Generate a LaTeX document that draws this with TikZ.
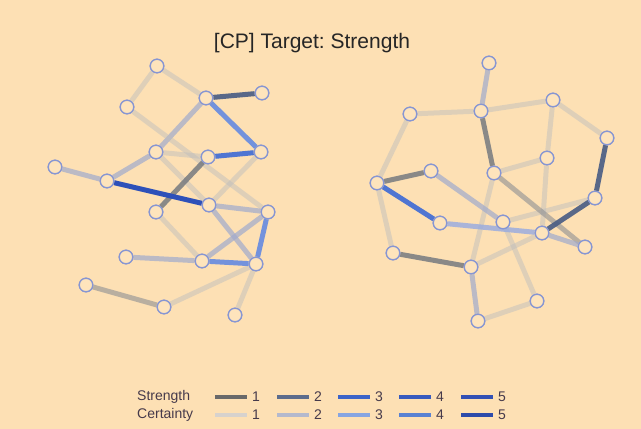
\documentclass[tikz,border=0pt]{standalone}
\usepackage{fontspec}
\setmainfont{Liberation Sans}
\frenchspacing
\definecolor{bg}{RGB}{253,224,180}
\definecolor{nodefill}{RGB}{254,228,188}
\definecolor{nodeline}{RGB}{135,150,210}
\definecolor{txt}{RGB}{70,58,75}
\definecolor{lgrey}{RGB}{190,190,190}
\definecolor{tgrey}{RGB}{150,150,150}
\definecolor{bgrey}{RGB}{160,170,205}
\definecolor{lblue}{RGB}{150,170,225}
\definecolor{mblue}{RGB}{100,138,225}
\definecolor{sblue}{RGB}{70,112,212}
\definecolor{dblue}{RGB}{45,80,185}
\definecolor{slate}{RGB}{72,92,132}
\definecolor{dgrey}{RGB}{118,122,128}
\definecolor{sg1}{RGB}{105,105,105}
\definecolor{sg2}{RGB}{92,108,140}
\definecolor{sg3}{RGB}{60,100,200}
\definecolor{sg4}{RGB}{55,90,190}
\definecolor{sg5}{RGB}{50,80,180}
\definecolor{cg1}{RGB}{215,210,205}
\definecolor{cg2}{RGB}{180,185,205}
\definecolor{cg3}{RGB}{135,165,225}
\definecolor{cg4}{RGB}{90,130,210}
\definecolor{cg5}{RGB}{45,75,170}
\tikzset{
  vtx/.style={circle,minimum size=13.5pt,inner sep=0pt,fill=nodefill,draw=nodeline,line width=1.3pt},
  edge/.style={line width=5pt},
  elight/.style={edge,draw=lgrey,draw opacity=0.48},
  etan/.style={edge,draw=tgrey,draw opacity=0.65},
  ebg/.style={edge,draw=bgrey,draw opacity=0.7},
  elb/.style={edge,draw=lblue,draw opacity=0.8},
  emb/.style={edge,draw=mblue,draw opacity=0.9},
  esb/.style={edge,draw=sblue,draw opacity=0.95},
  edb/.style={edge,draw=dblue},
  esl/.style={edge,draw=slate,draw opacity=0.9},
  edg/.style={edge,draw=dgrey,draw opacity=0.85},
  leg/.style={line width=4.5pt},
  legtxt/.style={text=txt,font=\fontsize{14}{16}\selectfont,inner sep=0pt},
}
\begin{document}
\begin{tikzpicture}[x=1pt,y=-1pt]
\fill[bg] (0,0) rectangle (641,429);
\useasboundingbox (0,0) rectangle (641,429);
\node[text=black!85,font=\fontsize{21}{24}\selectfont] (title) at (312,43) {[CP] Target: Strength};
% left graph nodes
\node[vtx] (A) at (157,66) {};
\node[vtx] (B) at (206,98) {};
\node[vtx] (C) at (262,93) {};
\node[vtx] (D) at (127,107) {};
\node[vtx] (E) at (156,152) {};
\node[vtx] (F) at (208,157) {};
\node[vtx] (G) at (261,152) {};
\node[vtx] (H) at (55,167) {};
\node[vtx] (I) at (107,181) {};
\node[vtx] (J) at (209,205) {};
\node[vtx] (K) at (156,212) {};
\node[vtx] (L) at (268,212) {};
\node[vtx] (M) at (126,257) {};
\node[vtx] (N) at (202,261) {};
\node[vtx] (O) at (256,264) {};
\node[vtx] (P) at (86,285) {};
\node[vtx] (Q) at (164,307) {};
\node[vtx] (R) at (235,315) {};
% right graph nodes
\node[vtx] (a) at (489,63) {};
\node[vtx] (b) at (410,114) {};
\node[vtx] (c) at (481,111) {};
\node[vtx] (d) at (553,100) {};
\node[vtx] (e) at (607,138) {};
\node[vtx] (f) at (547,158) {};
\node[vtx] (g) at (494,173) {};
\node[vtx] (h) at (431,171) {};
\node[vtx] (i) at (377,183) {};
\node[vtx] (j) at (595,198) {};
\node[vtx] (k) at (440,223) {};
\node[vtx] (l) at (503,222) {};
\node[vtx] (m) at (542,233) {};
\node[vtx] (n) at (585,247) {};
\node[vtx] (o) at (393,253) {};
\node[vtx] (p) at (471,267) {};
\node[vtx] (q) at (537,301) {};
\node[vtx] (r) at (478,321) {};
% left edges
\draw[elight] (A) -- (D);
\draw[elight] (A) -- (B);
\draw[ebg] (B) -- (E);
\draw[elight] (D) -- (L);
\draw[elight] (E) -- (F);
\draw[elight] (E) -- (J);
\draw[elight] (G) -- (J);
\draw[elight] (K) -- (N);
\draw[elight] (O) -- (Q);
\draw[elight] (O) -- (R);
\draw[ebg] (E) -- (I);
\draw[ebg] (H) -- (I);
\draw[ebg] (J) -- (L);
\draw[ebg] (J) -- (O);
\draw[ebg] (N) -- (L);
\draw[ebg] (M) -- (N);
\draw[etan] (P) -- (Q);
\draw[esl] (B) -- (C);
\draw[emb] (B) -- (G);
\draw[esb] (F) -- (G);
\draw[edg] (F) -- (K);
\draw[edb] (I) -- (J);
\draw[emb] (N) -- (O);
\draw[emb] (L) -- (O);
% right edges
\draw[elight] (b) -- (c);
\draw[elight] (c) -- (d);
\draw[elight] (d) -- (e);
\draw[elight] (d) -- (f);
\draw[elight] (f) -- (m);
\draw[elight] (b) -- (i);
\draw[elight] (i) -- (o);
\draw[elight] (g) -- (f);
\draw[elight] (l) -- (j);
\draw[elight] (g) -- (p);
\draw[elight] (p) -- (m);
\draw[elight] (l) -- (q);
\draw[elight] (r) -- (q);
\draw[etan] (g) -- (n);
\draw[ebg] (a) -- (c);
\draw[ebg] (h) -- (l);
\draw[ebg] (m) -- (n);
\draw[ebg] (p) -- (r);
\draw[elb] (k) -- (m);
\draw[esl] (e) -- (j);
\draw[esl] (m) -- (j);
\draw[edg] (c) -- (g);
\draw[edg] (i) -- (h);
\draw[edg] (o) -- (p);
\draw[esb] (i) -- (k);
% redraw node circles on top of the edges
\foreach \n in {A,B,C,D,E,F,G,H,I,J,K,L,M,N,O,P,Q,R,a,b,c,d,e,f,g,h,i,j,k,l,m,n,o,p,q,r}
  \draw[fill=nodefill,draw=nodeline,line width=1.3pt] (\n.center) circle (6.75pt);
% legend
\node[legtxt,anchor=west] (lS) at (137,397) {Strength};
\node[legtxt,anchor=west] (lC) at (137,415) {Certainty};
\foreach \k/\x in {1/215,2/277,3/338,4/399,5/461}{
  \draw[leg,draw=sg\k] (\x,397) -- (\x+32,397);
  \draw[leg,draw=cg\k] (\x,415) -- (\x+32,415);
  \node[legtxt] (ls\k) at (\x+41,397) {\k};
  \node[legtxt] (lc\k) at (\x+41,415) {\k};
}
\end{tikzpicture}
\end{document}
